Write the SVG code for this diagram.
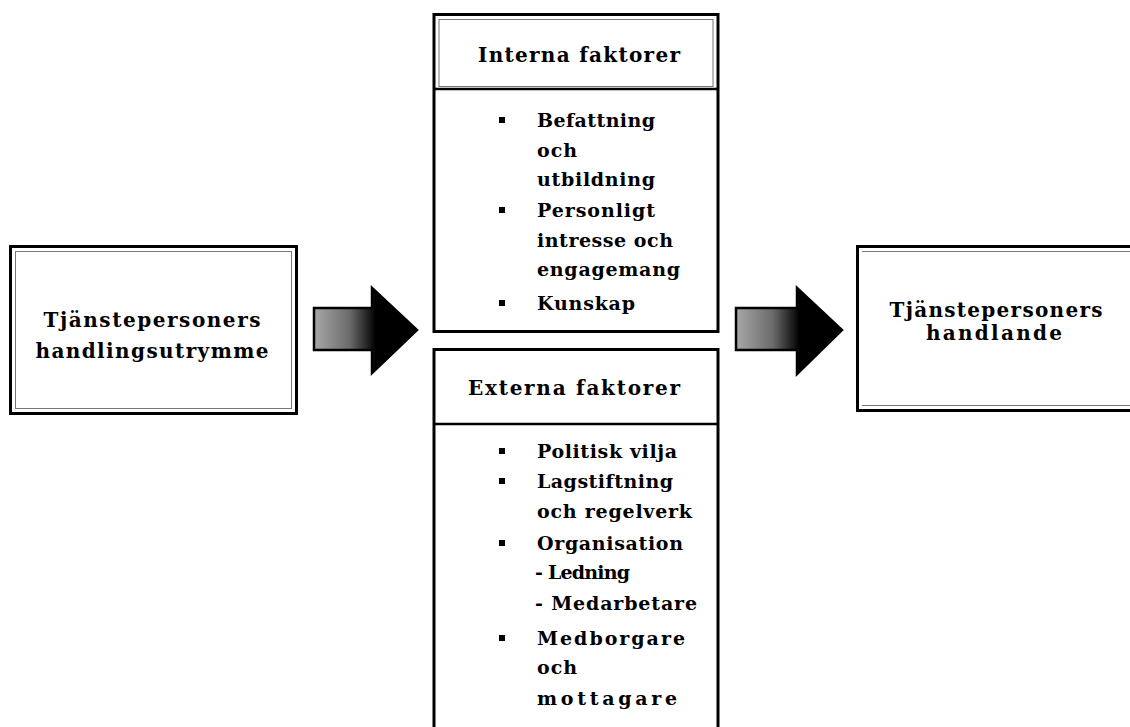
<svg xmlns="http://www.w3.org/2000/svg" width="1130" height="727" viewBox="0 0 1130 727">
<defs>
<style>
.box{fill:#fff;stroke:#000;stroke-width:3}
.inner{fill:none;stroke:#777;stroke-width:1}
.div{stroke:#000;stroke-width:2.5}
.t{font-family:"DejaVu Serif","Liberation Serif",serif;font-weight:bold;font-size:20px;fill:#000}
.l{font-family:"DejaVu Serif","Liberation Serif",serif;font-weight:bold;font-size:19px;fill:#000}
.arrow{stroke:#000;stroke-width:2.5;stroke-linejoin:miter}
.bul{fill:#000}
</style>
<linearGradient id="ag" x1="0" y1="0" x2="1" y2="0">
<stop offset="0" stop-color="#a8a8a8"/>
<stop offset="0.35" stop-color="#6a6a6a"/>
<stop offset="0.6" stop-color="#000"/>
<stop offset="1" stop-color="#000"/>
</linearGradient>
</defs>
<rect width="1130" height="727" fill="#fff"/>

<g id="node-left">
<rect class="box" x="10.5" y="246.5" width="286" height="167"/>
<rect class="inner" x="15.5" y="251.5" width="276" height="157"/>
<text class="t" x="152" y="327" text-anchor="middle" textLength="217" lengthAdjust="spacing">Tjänstepersoners</text>
<text class="t" x="152" y="358" text-anchor="middle" textLength="233" lengthAdjust="spacing">handlingsutrymme</text>
</g>

<g id="node-interna">
<rect class="box" x="434" y="14.5" width="284" height="317"/>
<rect class="inner" x="439" y="19.5" width="274" height="67"/>
<line class="div" x1="434" y1="89" x2="718" y2="89"/>
<text class="t" x="579" y="62" text-anchor="middle" textLength="202" lengthAdjust="spacing">Interna faktorer</text>
<rect class="bul" x="499" y="117" width="6" height="6"/>
<text class="l" x="537" y="127" textLength="118" lengthAdjust="spacing">Befattning</text>
<text class="l" x="537" y="157" textLength="40" lengthAdjust="spacing">och</text>
<text class="l" x="537" y="186" textLength="118" lengthAdjust="spacing">utbildning</text>
<rect class="bul" x="499" y="207" width="6" height="6"/>
<text class="l" x="537" y="217" textLength="118" lengthAdjust="spacing">Personligt</text>
<text class="l" x="537" y="247" textLength="136" lengthAdjust="spacing">intresse och</text>
<text class="l" x="537" y="276" textLength="143" lengthAdjust="spacing">engagemang</text>
<rect class="bul" x="499" y="300" width="6" height="6"/>
<text class="l" x="537" y="310" textLength="98" lengthAdjust="spacing">Kunskap</text>
</g>

<g id="node-externa">
<rect class="box" x="434" y="349.5" width="284" height="400"/>
<line class="div" x1="434" y1="424" x2="718" y2="424"/>
<text class="t" x="574" y="395" text-anchor="middle" textLength="212" lengthAdjust="spacing">Externa faktorer</text>
<rect class="bul" x="499" y="448" width="6" height="6"/>
<text class="l" x="537" y="458" textLength="140" lengthAdjust="spacing">Politisk vilja</text>
<rect class="bul" x="499" y="478" width="6" height="6"/>
<text class="l" x="537" y="488" textLength="136" lengthAdjust="spacing">Lagstiftning</text>
<text class="l" x="537" y="518" textLength="155" lengthAdjust="spacing">och regelverk</text>
<rect class="bul" x="499" y="540" width="6" height="6"/>
<text class="l" x="537" y="550" textLength="146" lengthAdjust="spacing">Organisation</text>
<text class="l" x="535" y="579" textLength="95" lengthAdjust="spacing">- Ledning</text>
<text class="l" x="535" y="610" textLength="162" lengthAdjust="spacing">- Medarbetare</text>
<rect class="bul" x="499" y="635" width="6" height="6"/>
<text class="l" x="537" y="645" textLength="148" lengthAdjust="spacing">Medborgare</text>
<text class="l" x="537" y="674" textLength="40" lengthAdjust="spacing">och</text>
<text class="l" x="537" y="705" textLength="140" lengthAdjust="spacing">mottagare</text>
</g>

<g id="node-right">
<rect class="box" x="857.5" y="246.5" width="290" height="164"/>
<line x1="862" y1="251.5" x2="1135" y2="251.5" stroke="#777" stroke-width="1"/>
<line x1="862" y1="405.5" x2="1135" y2="405.5" stroke="#777" stroke-width="1"/>
<text class="t" x="996" y="317" text-anchor="middle" textLength="213" lengthAdjust="spacing">Tjänstepersoners</text>
<text class="t" x="994" y="340" text-anchor="middle" textLength="136" lengthAdjust="spacing">handlande</text>
</g>

<g id="connectors">
<path class="arrow" fill="url(#ag)" d="M314,308 L372,308 L372,288 L417,330 L372,373 L372,350 L314,350 Z"/>
<path class="arrow" fill="url(#ag)" d="M736,308 L797,308 L797,288 L842,330 L797,374 L797,350 L736,350 Z"/>
</g>
</svg>
